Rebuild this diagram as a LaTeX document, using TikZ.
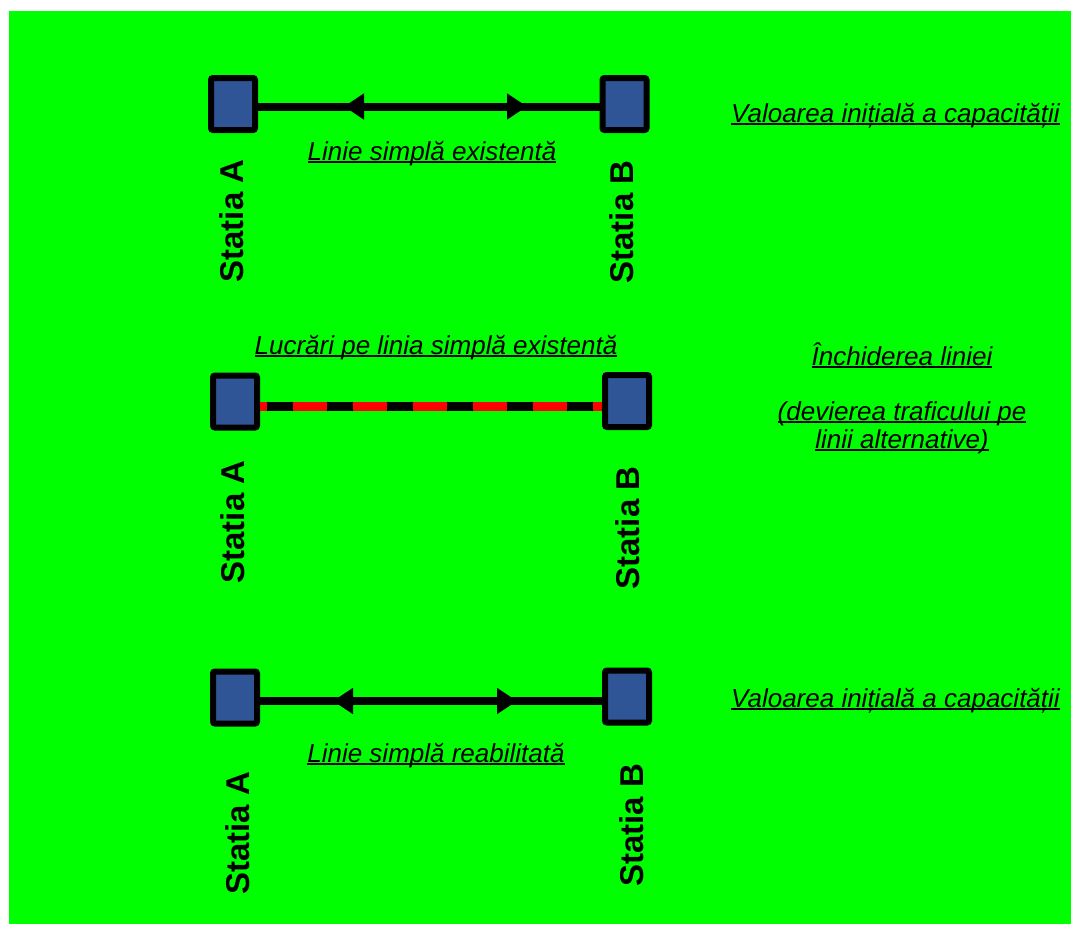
\documentclass[tikz,border=0pt]{standalone}
\usepackage{fontspec}
\setmainfont{Liberation Sans}
\usetikzlibrary{arrows.meta,decorations.markings}
\definecolor{bggreen}{RGB}{0,255,0}
\definecolor{sqblue}{RGB}{47,85,151}
\definecolor{dashred}{RGB}{255,0,0}
\newcommand{\myul}[1]{\setbox0\hbox{#1}\rlap{\rule[-3.2pt]{\wd0}{2.2pt}}\box0}
\begin{document}
\begin{tikzpicture}[x=1pt,y=-1pt,
  station/.style={draw=black,fill=sqblue,line width=6pt,rounded corners=2pt,
    minimum width=44pt,minimum height=52pt,inner sep=0pt,outer sep=3pt},
  stname/.style={rotate=90,inner sep=0pt,font=\fontsize{33}{36}\selectfont\bfseries},
  label/.style={inner sep=0pt,anchor=base,font=\fontsize{26}{28}\selectfont\itshape},
  track/.style={line width=8pt,draw=black},
  bothtips/.style 2 args={postaction={decorate},decoration={markings,
    mark=at position #1 with {\arrowreversed{Triangle[length=20pt,width=25pt]}},
    mark=at position #2 with {\arrow{Triangle[length=20pt,width=25pt]}}}}
]
\fill[white] (0,0) rectangle (1071,924);
\fill[bggreen] (9,11) rectangle (1071,924);
\useasboundingbox (0,0) rectangle (1071,924);

% Row 1
\node[station] (A1) at (233,104) {};
\node[station] (B1) at (624.5,104) {};
\draw[track,bothtips={86pt}{269pt}] ([yshift=-2.5pt]A1.east) -- ([yshift=-2.5pt]B1.west);
\node[label] (l1) at (432,160) {\myul{Linie simplă existentă}};
\node[stname] (sa1) at (232,221) {Statia A};
\node[stname] (sb1) at (622,222) {Statia B};
\node[label] (r1) at (895.5,122) {\myul{Valoarea inițială a capacității}};

% Row 2
\node[station] (A2) at (235,401.5) {};
\node[station] (B2) at (627,401) {};
\draw[line width=9pt,draw=dashred] ([yshift=-5pt]A2.east) -- ([yshift=-5.5pt]B2.west);
\draw[line width=9pt,draw=black,dash pattern=on 26pt off 34pt,dash phase=53pt]
  ([yshift=-5pt]A2.east) -- ([yshift=-5.5pt]B2.west);
\node[label] (l2) at (436,354) {\myul{Lucrări pe linia simplă existentă}};
\node[stname] (sa2) at (232.5,522) {Statia A};
\node[stname] (sb2) at (627.5,528) {Statia B};
\node[label] (r2a) at (902,365) {\myul{Închiderea liniei}};
\node[label] (r2b) at (902,420) {\myul{(devierea traficului pe}};
\node[label] (r2c) at (902,448) {\myul{linii alternative)}};

% Row 3
\node[station] (A3) at (235,697.5) {};
\node[station] (B3) at (627,696.5) {};
\draw[track,bothtips={73pt}{257pt}] ([yshift=-3.5pt]A3.east) -- ([yshift=-4.5pt]B3.west);
\node[label] (l3) at (436,762) {\myul{Linie simplă reabilitată}};
\node[stname] (sa3) at (238,833.5) {Statia A};
\node[stname] (sb3) at (632,825.5) {Statia B};
\node[label] (r3) at (895.5,707) {\myul{Valoarea inițială a capacității}};
\end{tikzpicture}
\end{document}
